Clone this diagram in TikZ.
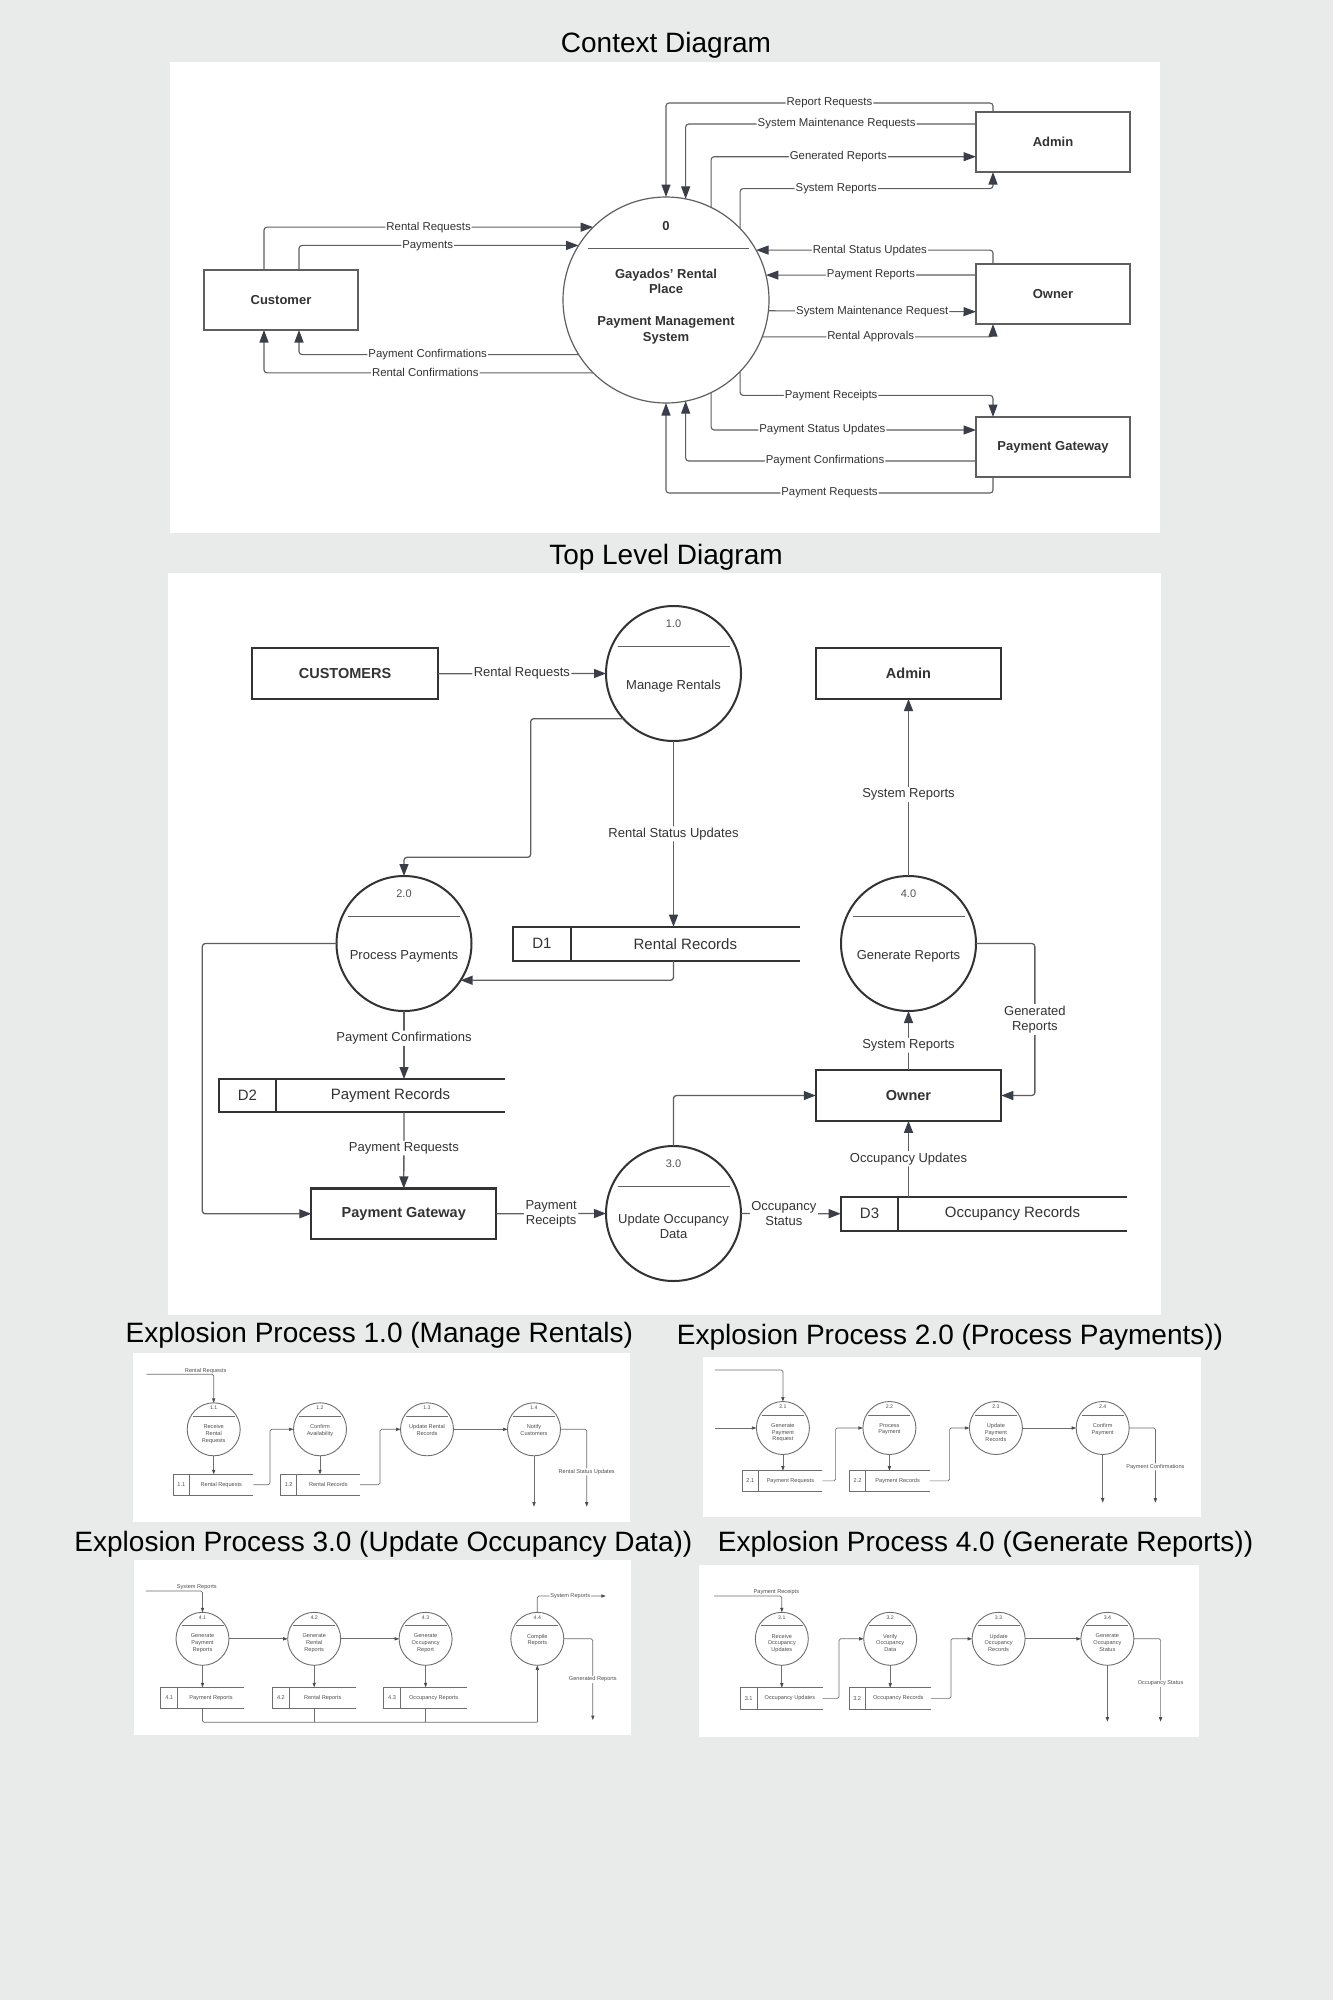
\documentclass[tikz,border=0pt]{standalone}
\usepackage{fontspec}
\setmainfont{Liberation Sans}
\usetikzlibrary{arrows.meta,calc}
\definecolor{bgc}{RGB}{233,235,234}
\definecolor{ink}{RGB}{51,51,51}
\definecolor{lnc}{RGB}{95,95,95}
\definecolor{tipc}{RGB}{58,62,72}
\definecolor{elnc}{RGB}{110,110,110}
\definecolor{etxc}{RGB}{80,80,80}
\newcommand\mkstore[9]{%
 \pgfmathsetmacro\stcx{(#2+#3)/2}%
 \pgfmathsetmacro\stcy{(#4+#5)/2}%
 \pgfmathsetmacro\stw{#3-#2}%
 \pgfmathsetmacro\sth{#5-#4}%
 \pgfmathsetmacro\stix{(#2+#6)/2}%
 \pgfmathsetmacro\sttx{(#6+#3)/2}%
 \node[store,minimum width=\stw pt,minimum height=\sth pt] (#1) at (\stcx,\stcy) {};
 \draw[#9ln] (#3,#4) -- (#2,#4) -- (#2,#5) -- (#3,#5);
 \draw[#9ln] (#6,#4) -- (#6,#5);
 \node[#9tx] (#1i) at (\stix,\stcy) {#7};
 \node[#9tx] (#1t) at (\sttx,\stcy) {#8};
}
\newcommand\tproc[5]{%
 \node[tcirc] (#1) at (#2,#3) {};
 \draw[tdiv] (#2-56,#3-26.8) -- (#2+56,#3-26.8);
 \node[tnum] (#1n) at (#2,#3-50) {#4};
 \node[ttext] (#1t) at (#2,#3+13) {#5};
}
\newcommand\eproc[5]{%
 \node[ecirc] (#1) at (#2,#3) {};
 \draw[ediv] (#2-21,#3-13) -- (#2+21,#3-13);
 \node[enum] (#1n) at (#2,#3-21.5) {#4};
 \node[etext,anchor=north] (#1t) at (#2,#3-5) {#5};
}
\begin{document}
\begin{tikzpicture}[x=1pt,y=-1pt,
 ttl/.style={font=\fontsize{28}{32}\selectfont,text=black,inner sep=0pt},
 cbox/.style={draw=lnc,line width=1.3pt,minimum width=154pt,minimum height=60pt,font=\bfseries\fontsize{13}{15.7}\selectfont,text=ink,inner sep=0pt,outer sep=0pt},
 ccirc/.style={circle,draw=lnc,line width=1.2pt,minimum size=206pt,inner sep=0pt,outer sep=0pt},
 ctext/.style={font=\bfseries\fontsize{13}{15.7}\selectfont,text=ink,align=center,inner sep=0pt},
 cdiv/.style={draw=lnc,line width=1.1pt},
 cline/.style={draw=lnc,line width=1.1pt,rounded corners=3pt},
 carr/.style={cline,-{Triangle[length=12.5pt,width=9pt,color=tipc]}},
 clbl/.style={fill=white,inner sep=1pt,font=\fontsize{11.4}{13}\selectfont,text=ink},
 tbox/.style={draw=ink,line width=2.2pt,minimum width=185.5pt,minimum height=50.7pt,font=\bfseries\fontsize{14.5}{17}\selectfont,text=ink,inner sep=0pt,outer sep=0pt},
 tcirc/.style={circle,draw=ink,line width=2pt,minimum size=135pt,inner sep=0pt,outer sep=0pt},
 tdiv/.style={draw=lnc,line width=1.3pt},
 tnum/.style={font=\fontsize{11}{13}\selectfont,text=ink!85,inner sep=0pt},
 ttext/.style={font=\fontsize{13}{15.5}\selectfont,text=ink,align=center,inner sep=0pt},
 tline/.style={draw=lnc,line width=1.3pt,rounded corners=3pt},
 tarr/.style={tline,-{Triangle[length=12pt,width=9pt,color=tipc]}},
 tlbl/.style={fill=white,inner sep=1.5pt,font=\fontsize{13}{15.5}\selectfont,text=ink},
 tln/.style={draw=ink,line width=2pt},
 ttx/.style={font=\fontsize{15}{17}\selectfont,text=ink,inner sep=0pt},
 store/.style={inner sep=0pt,outer sep=0pt,draw=none},
 ecirc/.style={circle,draw=elnc,line width=0.9pt,minimum size=53pt,inner sep=0pt,outer sep=0pt},
 ediv/.style={draw=elnc,line width=0.8pt},
 enum/.style={font=\fontsize{5.2}{6}\selectfont,text=etxc,inner sep=0pt},
 etext/.style={font=\fontsize{5.6}{6.9}\selectfont,text=etxc,align=center,inner sep=0pt},
 eline/.style={draw=elnc,line width=0.7pt,rounded corners=1.5pt},
 earr/.style={eline,-{Triangle[length=4.5pt,width=3.2pt,color=elnc!70!black]}},
 elbl/.style={font=\fontsize{5.6}{6.6}\selectfont,text=etxc,inner sep=0.8pt},
 elblw/.style={elbl,fill=white},
 eln/.style={draw=elnc,line width=0.8pt},
 etx/.style={font=\fontsize{5.6}{6.6}\selectfont,text=etxc,inner sep=0pt}
]
\fill[bgc] (0,0) rectangle (1333,2000);
\useasboundingbox (0,0) rectangle (1333,2000);
% panels
\fill[white] (170,61.7) rectangle (1160,533);
\fill[white] (168,573) rectangle (1161,1315);
\fill[white] (133.3,1352.7) rectangle (630,1521.7);
\fill[white] (703,1356.7) rectangle (1200.6,1517.3);
\fill[white] (134,1560) rectangle (631,1735);
\fill[white] (699,1565) rectangle (1198.6,1736.7);
% titles
\node[ttl] (t0) at (666,45) {Context Diagram};
\node[ttl] (t1) at (666,557.5) {Top Level Diagram};
\node[ttl] (t2) at (379.3,1335) {Explosion Process 1.0 (Manage Rentals)};
\node[ttl] (t3) at (950,1337) {Explosion Process 2.0 (Process Payments))};
\node[ttl] (t4) at (383.4,1544.5) {Explosion Process 3.0 (Update Occupancy Data))};
\node[ttl] (t5) at (985.5,1544.5) {Explosion Process 4.0 (Generate Reports))};

% ================= CONTEXT =================
\node[cbox] (cust) at (281,300) {Customer};
\node[cbox] (adm) at (1053,142) {Admin};
\node[cbox] (own) at (1053,294) {Owner};
\node[cbox] (pg) at (1053,447) {Payment Gateway};
\node[ccirc] (sys) at (666,300) {};
\draw[cdiv] (588,248.3) -- (749,248.3);
\node[ctext] (sysn) at (666,226) {0};
\node[ctext] (syst) at (666,306.3) {Gayados' Rental\\Place\\[15.7pt]Payment Management\\System};

\draw[carr] ([xshift=-17pt]cust.north) |- node[clbl,pos=0.75]{Rental Requests} (sys.135.1);
\draw[carr] ([xshift=18pt]cust.north) |- node[clbl,pos=0.73]{Payments} (sys.148.8);
\draw[carr] (sys.212.3) -| node[clbl,pos=0.27]{Payment Confirmations} ([xshift=18pt]cust.south);
\draw[carr] (sys.225.4) -| node[clbl,pos=0.255]{Rental Confirmations} ([xshift=-17pt]cust.south);

\draw[carr] ([xshift=-60pt]adm.north) -- ++(0,-9) -| node[clbl,pos=0.25]{Report Requests} (sys.north);
\draw[carr] ([yshift=18pt]adm.west) -| node[clbl,pos=0.24]{System Maintenance Requests} (sys.79.8);
\draw[carr] (sys.64) |- node[clbl,pos=0.74]{Generated Reports} ([yshift=-14.7pt]adm.west);
\draw[carr] (sys.44.6) |- node[clbl,pos=0.69]{System Reports} ([xshift=-60pt,yshift=-16.6pt]adm.south) -- ([xshift=-60pt]adm.south);

\draw[carr] ([xshift=-60pt]own.north) |- node[clbl,pos=0.76]{Rental Status Updates} (sys.29.5);
\draw[carr] ([yshift=19pt]own.west) -- node[clbl]{Payment Reports} (sys.14);
\draw[carr] (sys.-6.5) -- node[clbl]{System Maintenance Request} ([yshift=-17.7pt]own.west);
\draw[carr] (sys.-21.2) -| node[clbl,pos=0.235]{Rental Approvals} ([xshift=-60pt]own.south);

\draw[carr] (sys.-44.6) |- node[clbl,pos=0.68]{Payment Receipts} ([xshift=-60pt,yshift=21.7pt]pg.north) -- ([xshift=-60pt]pg.north);
\draw[carr] (sys.-64) |- node[clbl,pos=0.71]{Payment Status Updates} ([yshift=17pt]pg.west);
\draw[carr] ([yshift=-14pt]pg.west) -| node[clbl,pos=0.26]{Payment Confirmations} (sys.-79.8);
\draw[carr] ([xshift=-60pt]pg.south) -- ++(0,16) -| node[clbl,pos=0.25]{Payment Requests} (sys.south);

% ================= TOP LEVEL =================
\node[tbox] (cust2) at (345,673.7) {CUSTOMERS};
\node[tbox] (adm2) at (908.5,673.7) {Admin};
\node[tbox] (own2) at (908.5,1095.5) {Owner};
\node[tbox,minimum width=185pt] (pg2) at (403.8,1213.8) {Payment Gateway};
\tproc{p1}{673.5}{673.5}{1.0}{Manage Rentals}
\tproc{p2}{404}{943.5}{2.0}{Process Payments}
\tproc{p3}{673.5}{1213.5}{3.0}{Update Occupancy\\Data}
\tproc{p4}{908.5}{943.5}{4.0}{Generate Reports}
\mkstore{d1}{513}{800}{926.7}{960.7}{570.7}{D1}{Rental Records}{t}
\mkstore{d2}{218.7}{504.7}{1079}{1112.3}{276.3}{D2}{Payment Records}{t}
\mkstore{d3}{840.7}{1126.7}{1196.7}{1230.7}{898.3}{D3}{Occupancy Records}{t}

\draw[tarr] (cust2.east) -- node[tlbl]{Rental Requests} (p1.west);
\coordinate (w1) at (530.7,857.3);
\draw[tarr] (p1.222.7) -| (w1) -| (p2.north);
\draw[tarr] (p1.south) -- node[tlbl]{Rental Status Updates} (p1.south |- d1.north);
\draw[tarr] (p1.south |- d1.south) |- (p2.-33.4);
\draw[tarr] (p2.south) -- node[tlbl,pos=0.4]{Payment Confirmations} (p2.south |- d2.north);
\draw[tarr] (p2.south |- d2.south) -- node[tlbl,pos=0.47]{Payment Requests} (pg2.north);
\coordinate (w2) at (202.3,1213.8);
\draw[tarr] (p2.west) -| (w2) -- (pg2.west);
\draw[tarr] (pg2.east) -- node[tlbl,align=center]{Payment\\Receipts} (p3.west);
\draw[tarr] (p3.east) -- node[tlbl,align=center,pos=0.43]{Occupancy\\Status} (d3.west);
\draw[tarr] (own2.south |- d3.north) -- node[tlbl]{Occupancy Updates} (own2.south);
\draw[tarr] (p3.north) |- (own2.west);
\draw[tarr] (own2.north) -- node[tlbl,pos=0.42]{System Reports} (p4.south);
\draw[tarr] (p4.east) -| node[tlbl,align=center,pos=0.75]{Generated\\Reports} ([xshift=33.6pt]own2.east) -- (own2.east);
\draw[tarr] (p4.north) -- node[tlbl,pos=0.46]{System Reports} (adm2.south);

% ================= EXPLOSION 1.0 =================
\eproc{e11}{213.7}{1429.3}{1.1}{Receive\\Rental\\Requests}
\eproc{e12}{320}{1429.3}{1.2}{Confirm\\Availability}
\eproc{e13}{427}{1429.3}{1.3}{Update Rental\\Records}
\eproc{e14}{534}{1429.3}{1.4}{Notify\\Customers}
\mkstore{s11}{173.3}{253.3}{1474.3}{1495}{189.3}{1.1}{Rental Requests}{e}
\mkstore{s12}{280.7}{360}{1474.3}{1495}{296.7}{1.2}{Rental Records}{e}
\coordinate (i1) at (146.7,1374.3);
\draw[earr] (i1) -| node[elbl,above,pos=0.44]{Rental Requests} (e11.north);
\draw[earr] (e11.south) -- (e11.south |- s11.north);
\draw[earr] (e12.south) -- (e12.south |- s12.north);
\draw[earr] (s11.east) -- ++(16.7,0) |- (e12.west);
\draw[earr] (s12.east) -- ++(20,0) |- (e13.west);
\draw[earr] (e13.east) -- (e14.west);
\coordinate (o11) at (534,1506.7);
\coordinate (o12) at (586.7,1506.7);
\draw[earr] (e14.south) -- (o11);
\draw[earr] (e14.east) -| node[elblw,pos=0.775]{Rental Status Updates} (o12);

% ================= EXPLOSION 2.0 =================
\eproc{e21}{782.9}{1428}{2.1}{Generate\\Payment\\Request}
\eproc{e22}{889.4}{1428}{2.2}{Process\\Payment}
\eproc{e23}{995.9}{1428}{2.3}{Update\\Payment\\Records}
\eproc{e24}{1102.7}{1428}{2.4}{Confirm\\Payment}
\mkstore{s21}{742.2}{822.4}{1470.7}{1491}{758.4}{2.1}{Payment Requests}{e}
\mkstore{s22}{849.5}{929.6}{1470.7}{1491}{865.7}{2.2}{Payment Records}{e}
\coordinate (i2a) at (715,1370);
\coordinate (i2b) at (715,1428);
\draw[earr] (i2a) -| (e21.north);
\draw[earr] (i2b) -- (e21.west);
\draw[earr] (e21.south) -- (e21.south |- s21.north);
\draw[earr] (e22.south) -- (e22.south |- s22.north);
\draw[earr] (s21.east) -- ++(13.2,0) |- (e22.west);
\draw[earr] (s22.east) -- ++(20,0) |- (e23.west);
\draw[earr] (e23.east) -- (e24.west);
\coordinate (o21) at (1102.7,1502.7);
\coordinate (o22) at (1155.4,1502.7);
\draw[earr] (e24.south) -- (o21);
\draw[earr] (e24.east) -| node[elblw,pos=0.76]{Payment Confirmations} (o22);

% ================= EXPLOSION 3.0 =================
\eproc{e41}{202.5}{1638.8}{4.1}{Generate\\Payment\\Reports}
\eproc{e42}{314.2}{1638.8}{4.2}{Generate\\Rental\\Reports}
\eproc{e43}{425.6}{1638.8}{4.3}{Generate\\Occupancy\\Report}
\eproc{e44}{537.3}{1638.8}{4.4}{Compile\\Reports}
\mkstore{s41}{160.6}{244.3}{1687.3}{1708.3}{177.7}{4.1}{Payment Reports}{e}
\mkstore{s42}{272.4}{356}{1687.3}{1708.3}{289.4}{4.2}{Rental Reports}{e}
\mkstore{s43}{383.8}{467}{1687.3}{1708.3}{400.4}{4.3}{Occupancy Reports}{e}
\coordinate (i3) at (145.8,1591);
\draw[earr] (i3) -| node[elbl,above,pos=0.45]{System Reports} (e41.north);
\draw[earr] (e41.east) -- (e42.west);
\draw[earr] (e42.east) -- (e43.west);
\draw[earr] (e41.south) -- (e41.south |- s41.north);
\draw[earr] (e42.south) -- (e42.south |- s42.north);
\draw[earr] (e43.south) -- (e43.south |- s43.north);
\coordinate (bc) at (537.3,1722.3);
\draw[eline] (e41.south |- s41.south) |- (bc);
\draw[eline] (e42.south |- s42.south) -- (e42.south |- bc);
\draw[eline] (e43.south |- s43.south) -- (e43.south |- bc);
\draw[earr] (bc) -- (e44.south);
\coordinate (o41) at (605.8,1596);
\coordinate (o42) at (592.8,1720);
\draw[earr] (e44.north) |- node[elblw,pos=0.74]{System Reports} (o41);
\draw[earr] (e44.east) -| node[elblw,pos=0.75]{Generated Reports} (o42);

% ================= EXPLOSION 4.0 =================
\eproc{e31}{781.8}{1638.8}{3.1}{Receive\\Occupancy\\Updates}
\eproc{e32}{890.2}{1638.8}{3.2}{Verify\\Occupancy\\Data}
\eproc{e33}{998.6}{1638.8}{3.3}{Update\\Occupancy\\Records}
\eproc{e34}{1107.4}{1638.8}{3.4}{Generate\\Occupancy\\Status}
\mkstore{s31}{740}{822.5}{1687.7}{1709}{757.3}{3.1}{Occupancy Updates}{e}
\mkstore{s32}{849}{931.2}{1687.7}{1709}{865.4}{3.2}{Occupancy Records}{e}
\coordinate (i4) at (714,1596);
\draw[earr] (i4) -| node[elbl,above,pos=0.46]{Payment Receipts} (e31.north);
\draw[earr] (e31.south) -- (e31.south |- s31.north);
\draw[earr] (e32.south) -- (e32.south |- s32.north);
\draw[earr] (s31.east) -- ++(16.5,0) |- (e32.west);
\draw[earr] (s32.east) -- ++(19.7,0) |- (e33.west);
\draw[earr] (e33.east) -- (e34.west);
\coordinate (o31) at (1107.4,1721.7);
\coordinate (o32) at (1160.6,1721.7);
\draw[earr] (e34.south) -- (o31);
\draw[earr] (e34.east) -| node[elblw,pos=0.77]{Occupancy Status} (o32);
\end{tikzpicture}
\end{document}
